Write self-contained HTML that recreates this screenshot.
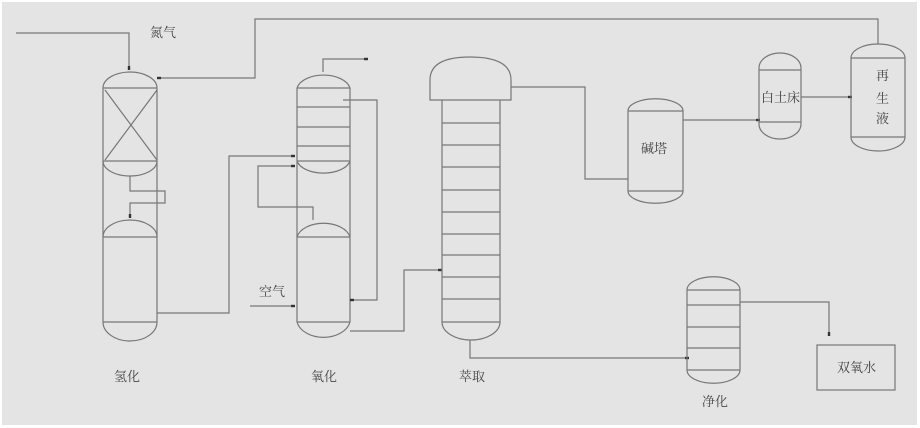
<!DOCTYPE html>
<html><head><meta charset="utf-8"><style>
html,body{margin:0;padding:0;background:#fff;}
svg{display:block;}
text{font-family:"Liberation Serif","Noto Serif CJK SC",serif;fill:#444;font-size:13px;}
</style></head><body>
<svg width="920" height="428" viewBox="0 0 920 428" xmlns="http://www.w3.org/2000/svg">
<defs>
<marker id="a" viewBox="0 0 10 10" refX="10" refY="5" markerWidth="6" markerHeight="4" orient="auto" markerUnits="userSpaceOnUse"><rect x="0" y="2" width="10" height="6" fill="#333"/></marker>
</defs>
<rect x="2" y="2" width="915" height="423" fill="#e4e4e4"/>
<g fill="none" stroke="#777" stroke-width="1.2">
<!-- Hydrogenation -->
<path d="M103,88 A27,16 0 0 1 157,88 M103,88 V322 M157,88 V322 M103,322 A27,19 0 0 0 157,322"/>
<path d="M103,88 H157 M103,161 H157 M103,237 H157 M103,322 H157"/>
<path d="M105,90 L157,160 M157,90 L105,160"/>
<path d="M103,161 A27,15 0 0 0 157,161 M103,237 A27,17 0 0 1 157,237"/>
<path d="M130,176 V191 H165 V203 H130 V218" marker-end="url(#a)"/>
<path d="M16,33 H129 V70" marker-end="url(#a)"/>
<path d="M878,44 V19 H255 V78 H157" marker-end="url(#a)"/>
<path d="M157,313 H229 V156 H295" marker-end="url(#a)"/>
<!-- Oxidation -->
<path d="M297,88 A27,16 0 0 1 350,88 M297,88 V322 M350,88 V322 M297,322 A27,19 0 0 0 350,322"/>
<path d="M297,88 H350 M297,107 H350 M297,127 H350 M297,146 H350 M297,161 H350 M297,237 H350 M297,322 H350"/>
<path d="M297,161 A27,15 0 0 0 350,161 M297,237 A27,17 0 0 1 350,237"/>
<path d="M323,72 V59 H368" marker-end="url(#a)"/>
<path d="M343,100 H377 V300 H350" marker-end="url(#a)"/>
<path d="M313,220 V207 H258 V166 H295" marker-end="url(#a)"/>
<path d="M250,306 H295" marker-end="url(#a)"/>
<path d="M350,331 H404 V270 H442" marker-end="url(#a)"/>
<!-- Extraction -->
<path d="M430,100 V80 Q430,57 470,57 Q511,57 511,80 V100 Z"/>
<path d="M442,100 V322 M500,100 V322 M442,322 A29,18 0 0 0 500,322"/>
<path d="M442,123 H500 M442,145 H500 M442,167 H500 M442,190 H500 M442,212 H500 M442,234 H500 M442,255 H500 M442,277 H500 M442,299 H500 M442,322 H500"/>
<path d="M511,87 H585 V179 H628"/>
<path d="M470,340 V358 H689" marker-end="url(#a)"/>
<!-- Alkali tower -->
<path d="M628,111 A27,12 0 0 1 683,111 V191 A27,12 0 0 1 628,191 Z M628,111 H683 M628,191 H683"/>
<path d="M683,120 H760" marker-end="url(#a)"/>
<!-- Clay bed -->
<path d="M759,68 A21,15 0 0 1 801,68 V124 A21,15 0 0 1 759,124 Z M759,70 H801 M759,122 H801"/>
<path d="M801,97 H852" marker-end="url(#a)"/>
<!-- Regen -->
<path d="M851,58 A27,14 0 0 1 905,58 V137 A27,14 0 0 1 851,137 Z M851,58 H905 M851,137 H905"/>
<!-- Purification -->
<path d="M687,290 A26,13 0 0 1 740,290 V370 A26,13 0 0 1 687,370 Z"/>
<path d="M687,290 H740 M687,305 H740 M687,327 H740 M687,348 H740 M687,370 H740"/>
<path d="M740,302 H829 V336" marker-end="url(#a)"/>
<rect x="817" y="345" width="78" height="45"/>
</g>
<text x="150" y="37">氮气</text>
<text x="259" y="296">空气</text>
<text x="114" y="381">氢化</text>
<text x="311" y="381">氧化</text>
<text x="459" y="381">萃取</text>
<text x="702" y="406">净化</text>
<text x="641" y="153">碱塔</text>
<text x="761" y="102" font-size="12">白土床</text>
<text x="876" y="80">再</text>
<text x="876" y="103">生</text>
<text x="876" y="123">液</text>
<text x="837" y="372">双氧水</text>
</svg>
</body></html>
